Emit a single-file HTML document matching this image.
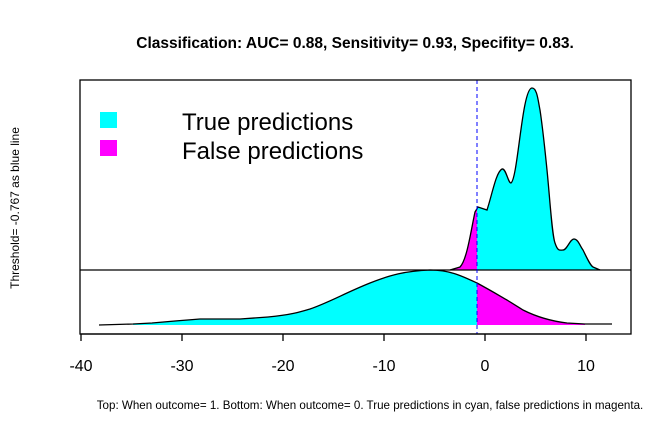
<!DOCTYPE html>
<html><head><style>body{margin:0;background:#fff}svg{display:block}</style></head><body>
<svg width="672" height="432" xmlns="http://www.w3.org/2000/svg" font-family="Liberation Sans, Arial, sans-serif">
<rect width="672" height="432" fill="#fff"/>
<text x="355" y="48" font-size="15.5" font-weight="bold" text-anchor="middle">Classification: AUC= 0.88, Sensitivity= 0.93, Specifity= 0.83.</text>
<text transform="translate(19,208) rotate(-90)" font-size="12" text-anchor="middle">Threshold= -0.767 as blue line</text>
<text x="370" y="409" font-size="11.6" text-anchor="middle">Top: When outcome= 1. Bottom: When outcome= 0. True predictions in cyan, false predictions in magenta.</text>
<!-- top curve -->
<path d="M477,270 L477,208 L478,207 L487,210 C492,195 496,172 502,169 C506,168 508,183 511,183 C518,178 522,88 532,88 C537,88 538,100 540,110 C543,130 545,150 547,170 C550,200 552,235 555,243 C558,252 560,250 563,250 C567,250 570,239 574,239 C578,239 580,246 583,250 C587,258 590,265 593,267 L600,270 Z" fill="#00ffff"/>
<path d="M450,270 L460,267 C467,260 471,230 475,212 L477,208 L477,270 Z" fill="#ff00ff"/>
<path d="M450,270 L460,267 C467,260 471,230 475,212 L478,207 L487,210 C492,195 496,172 502,169 C506,168 508,183 511,183 C518,178 522,88 532,88 C537,88 538,100 540,110 C543,130 545,150 547,170 C550,200 552,235 555,243 C558,252 560,250 563,250 C567,250 570,239 574,239 C578,239 580,246 583,250 C587,258 590,265 593,267 L600,270" fill="none" stroke="#000" stroke-width="1.3"/>
<!-- bottom curve -->
<path d="M133,325 L133,324 L152,323 L175,321 L200,319 L240,319 L268,317 C290,315 300,312 310,309 C330,302 345,293 370,283 C390,275 405,271 430,270 C450,270 462,276 477,283 L477,325 Z" fill="#00ffff"/>
<path d="M477,283 C490,290 500,296 507,300 C515,305 520,308 523,310 C535,316 550,321 567,323 L585,324 L585,325 L477,325 Z" fill="#ff00ff"/>
<path d="M99,325 L133,324 L152,323 L175,321 L200,319 L240,319 L268,317 C290,315 300,312 310,309 C330,302 345,293 370,283 C390,275 405,271 430,270 C450,270 462,276 477,283 C490,290 500,296 507,300 C515,305 520,308 523,310 C535,316 550,321 567,323 L585,324 L612,324" fill="none" stroke="#000" stroke-width="1.3"/>
<line x1="80" y1="270" x2="631" y2="270" stroke="#000" stroke-width="1.3"/>
<line x1="477" y1="80" x2="477" y2="334" stroke="#0000ff" stroke-width="1" stroke-dasharray="4,3"/>
<rect x="80" y="80" width="551" height="254" fill="none" stroke="#000" stroke-width="1.3"/>
<!-- axis -->
<g stroke="#000" stroke-width="1.3">
<line x1="81" y1="334" x2="586" y2="334"/>
<line x1="81" y1="334" x2="81" y2="341"/><line x1="182" y1="334" x2="182" y2="341"/><line x1="283" y1="334" x2="283" y2="341"/><line x1="384" y1="334" x2="384" y2="341"/><line x1="485" y1="334" x2="485" y2="341"/><line x1="586" y1="334" x2="586" y2="341"/>
</g>
<g font-size="16" text-anchor="middle">
<text x="81" y="371">-40</text><text x="182" y="371">-30</text><text x="283" y="371">-20</text><text x="384" y="371">-10</text><text x="485" y="371">0</text><text x="586" y="371">10</text>
</g>
<!-- legend -->
<rect x="100" y="112" width="17" height="16" fill="#00ffff"/>
<rect x="100" y="140" width="17" height="16" fill="#ff00ff"/>
<text x="182" y="130" font-size="24">True predictions</text>
<text x="182" y="159" font-size="24">False predictions</text>
</svg>
</body></html>
